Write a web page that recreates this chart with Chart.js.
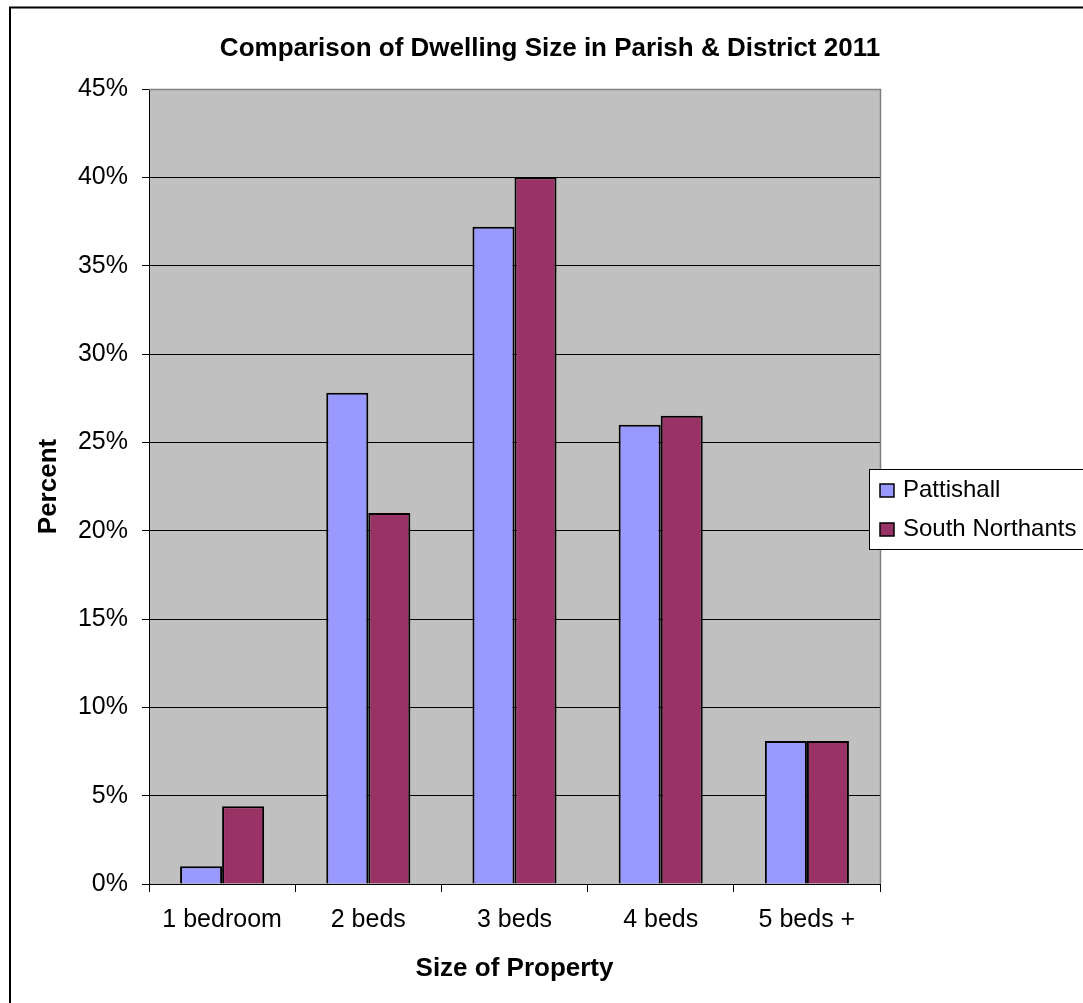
<!DOCTYPE html>
<html>
<head>
<meta charset="utf-8">
<title>Comparison of Dwelling Size in Parish &amp; District 2011</title>
<script src="https://cdn.jsdelivr.net/npm/chart.js@4/dist/chart.umd.min.js"></script>
<style>
  html, body { margin: 0; padding: 0; background: #ffffff; }
  canvas { display: block; }
</style>
</head>
<body>
<canvas id="chart" width="1083" height="1003"></canvas>
<script>
// Dwelling size shares (percent of dwellings), 2011
const categories = ['1 bedroom', '2 beds', '3 beds', '4 beds', '5 beds +'];
const pattishall = [1.0, 27.8, 37.2, 26.0, 8.1];
const southNorthants = [4.4, 21.0, 40.0, 26.5, 8.1];
const seriesNames = ['Pattishall', 'South Northants'];
const yTickMax = 45;
const yTickStep = 5;

const chartTitle = 'Comparison of Dwelling Size in Parish & District 2011';
const xTitle = 'Size of Property';
const yTitle = 'Percent';

const FONT = "'Liberation Sans', Arial, Helvetica, sans-serif";

// Plot background, outer frame, chart title and the boxed legend
const decorations = {
  id: 'decorations',
  beforeDraw(chart) {
    const { ctx, chartArea: a } = chart;
    ctx.save();
    ctx.fillStyle = '#ffffff';
    ctx.fillRect(0, 0, chart.width, chart.height);
    ctx.fillStyle = '#C0C0C0';
    ctx.fillRect(a.left, a.top, a.right - a.left, a.bottom - a.top);
    ctx.restore();
  },
  afterDraw(chart) {
    const { ctx, chartArea: a } = chart;
    ctx.save();
    // plot area edge (top and right)
    ctx.strokeStyle = '#808080';
    ctx.lineWidth = 1.5;
    ctx.beginPath();
    ctx.moveTo(a.left, a.top + 0.5);
    ctx.lineTo(a.right + 0.5, a.top + 0.5);
    ctx.lineTo(a.right + 0.5, a.bottom);
    ctx.stroke();

    // outer frame
    ctx.strokeStyle = '#000000';
    ctx.lineWidth = 2;
    ctx.strokeRect(10, 7.5, 2000, 2000);

    // title
    ctx.fillStyle = '#000000';
    ctx.font = 'bold 26px ' + FONT;
    ctx.textAlign = 'center';
    ctx.textBaseline = 'middle';
    ctx.fillText(chartTitle, 550, 49);

    // legend box
    ctx.fillStyle = '#ffffff';
    ctx.fillRect(869.5, 469.5, 300, 80);
    ctx.strokeStyle = '#000000';
    ctx.lineWidth = 1;
    ctx.strokeRect(869.5, 469.5, 300, 80);

    const rows = [490, 529];
    chart.data.datasets.forEach((ds, i) => {
      const y = rows[i];
      ctx.fillStyle = ds.backgroundColor;
      ctx.fillRect(880, y - 6, 14, 13);
      ctx.strokeStyle = '#000000';
      ctx.lineWidth = 1.5;
      ctx.strokeRect(880, y - 6, 14, 13);
      ctx.fillStyle = '#000000';
      ctx.font = '24px ' + FONT;
      ctx.textAlign = 'left';
      ctx.textBaseline = 'middle';
      ctx.fillText(ds.label, 903, y);
    });
    ctx.restore();
  }
};

new Chart(document.getElementById('chart'), {
  type: 'bar',
  data: {
    labels: categories,
    datasets: [
      {
        label: seriesNames[0],
        data: pattishall,
        backgroundColor: '#9999FF',
        borderColor: '#000000',
        borderWidth: 2,
        borderSkipped: 'bottom'
      },
      {
        label: seriesNames[1],
        data: southNorthants,
        backgroundColor: '#993366',
        borderColor: '#000000',
        borderWidth: 2,
        borderSkipped: 'bottom'
      }
    ]
  },
  options: {
    responsive: false,
    devicePixelRatio: 1,
    animation: false,
    categoryPercentage: 0.575,
    barPercentage: 1.0,
    layout: { padding: { top: 89, right: 203, bottom: 0, left: 0 } },
    plugins: {
      legend: { display: false },
      title: { display: false },
      tooltip: { enabled: false }
    },
    scales: {
      x: {
        afterFit(scale) { scale.height = 119; },
        grid: {
          offset: true,
          drawOnChartArea: false,
          drawTicks: true,
          tickLength: 8,
          color: '#000000',
          tickColor: '#000000',
          lineWidth: 1
        },
        border: { display: true, color: '#000000', width: 1 },
        ticks: {
          color: '#000000',
          padding: 13,
          maxRotation: 0,
          font: { family: FONT, size: 25 }
        },
        title: {
          display: true,
          text: xTitle,
          color: '#000000',
          font: { family: FONT, size: 26, weight: 'bold' },
          padding: { top: 0, bottom: 19 }
        }
      },
      y: {
        min: 0,
        max: yTickMax,
        afterFit(scale) { scale.width = 149; },
        grid: {
          drawOnChartArea: true,
          drawTicks: true,
          tickLength: 7,
          color: (c) => (c.tick && c.tick.value === yTickMax ? '#808080' : '#000000'),
          tickColor: '#000000',
          lineWidth: 1
        },
        border: { display: true, color: '#000000', width: 1 },
        ticks: {
          stepSize: yTickStep,
          color: '#000000',
          padding: 14,
          font: { family: FONT, size: 25 },
          callback: (v) => v + '%'
        },
        title: {
          display: true,
          text: yTitle,
          color: '#000000',
          font: { family: FONT, size: 26, weight: 'bold' },
          padding: { top: 33, bottom: 0 }
        }
      }
    }
  },
  plugins: [decorations]
});
</script>
</body>
</html>
